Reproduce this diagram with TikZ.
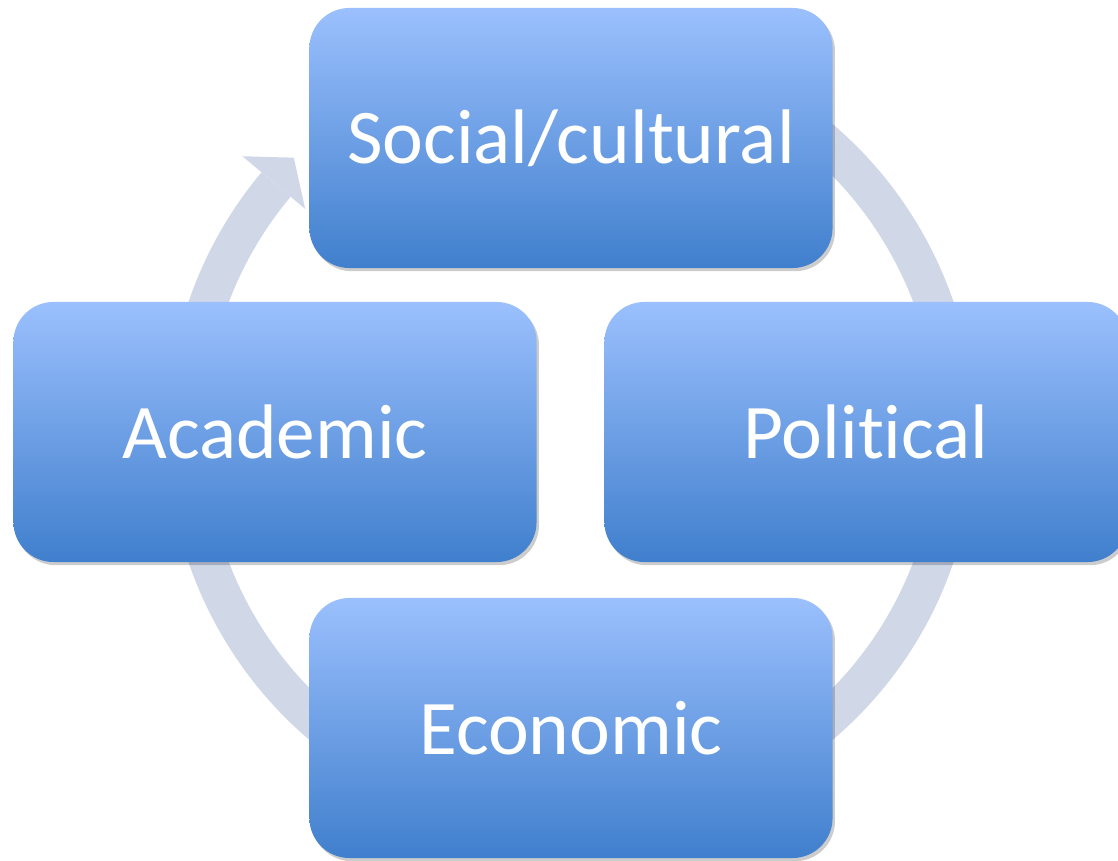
\documentclass[tikz,border=0pt]{standalone}
\usepackage{fontspec}
\setmainfont{Carlito}[Ligatures=NoCommon]
\usetikzlibrary{shadows}
\definecolor{boxtop}{RGB}{155,192,253}
\definecolor{boxbot}{RGB}{64,127,205}
\definecolor{arcgray}{RGB}{208,216,232}
\begin{document}
\begin{tikzpicture}[x=0.025cm,y=0.025cm,
  cyclebox/.style={rectangle, rounded corners=1cm, minimum width=13.075cm, minimum height=6.5cm,
    top color=boxtop, bottom color=boxbot, draw=none, text=white,
    font=\fontsize{55}{66}\selectfont,
    drop shadow={shadow xshift=0.06cm, shadow yshift=-0.08cm, opacity=0.2, fill=black}},
  cyclearc/.style={draw=arcgray, line width=0.95cm},
  cyclehead/.style={fill=arcgray, draw=none}]
\useasboundingbox (0,0) rectangle (1118,861);
\clip (0,0) rectangle (1118,861);
\coordinate (c) at (571,429);
% circular arrow
\draw[cyclearc] ([shift={(c)}]80:385) arc (80:-220:385);
\fill[cyclehead] ([shift={(c)}]140:347) -- ([shift={(c)}]135.3:390) -- ([shift={(c)}]140:429) -- cycle;
% boxes
\node[cyclebox] (social) at (571,723) {Social/cultural};
\node[cyclebox] (political) at (866,429) {Political};
\node[cyclebox] (economic) at (571,133) {Economic};
\node[cyclebox] (academic) at (275,429) {Academic};
\end{tikzpicture}
\end{document}
